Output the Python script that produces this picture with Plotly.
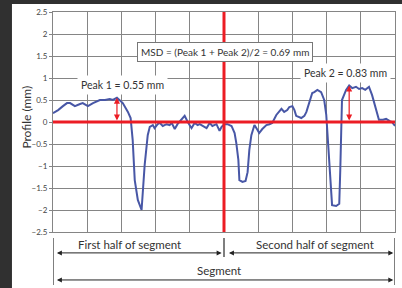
import plotly.graph_objects as go

# Profile trace (x: position along segment 0-100, y: profile in mm)
profile_x = [0, 1.5, 2.9, 4.1, 5.0, 6.4, 7.9, 8.7, 10.2, 11.7, 13.7, 15.2, 16.6, 17.5, 18.7, 19.5,
             20.4, 21.9, 22.7, 23.3, 23.9, 24.8, 25.9, 26.8, 27.7, 28.3, 29.2, 29.7, 30.6, 31.2,
             32.1, 33.2, 34.1, 34.7, 35.6, 36.4, 37.6, 38.5, 39.4, 40.5, 41.4, 42.3, 42.9, 43.7,
             44.9, 45.8, 46.6, 47.8, 48.7, 49.3, 50.1, 51.0, 52.2, 53.1, 53.6, 54.2, 54.5, 55.4,
             56.3, 56.9, 57.4, 58.0, 58.9, 59.8, 60.3, 61.2, 62.4, 63.3, 64.1, 65.3, 66.2, 66.8,
             67.6, 68.5, 69.1, 70.0, 70.6, 71.1, 72.6, 73.5, 74.1, 74.9, 75.8, 76.4, 77.3, 78.4,
             79.3, 79.9, 80.5, 81.0, 81.6, 82.8, 83.7, 84.0, 84.3, 84.5, 85.7, 86.6, 87.5, 88.6,
             89.5, 90.4, 91.3, 92.4, 93.3, 94.5, 95.3, 96.5, 97.4, 98.5, 99.1, 100]
profile_y = [0.20, 0.27, 0.36, 0.43, 0.43, 0.36, 0.41, 0.43, 0.36, 0.43, 0.50, 0.50, 0.52, 0.50,
             0.55, 0.50, 0.43, 0.23, 0.09, -0.41, -1.32, -1.77, -2.0, -0.98, -0.30, -0.11, -0.07,
             -0.14, -0.05, -0.02, -0.09, -0.05, -0.07, -0.02, -0.16, -0.05, 0.05, 0.14, 0.0,
             -0.14, -0.02, -0.07, -0.05, -0.09, -0.14, -0.02, -0.09, -0.05, -0.20, -0.11, -0.05,
             -0.05, -0.09, -0.25, -0.48, -0.86, -1.32, -1.36, -1.34, -1.14, -0.64, -0.30, -0.07,
             -0.18, -0.25, -0.16, -0.07, -0.05, -0.02, 0.16, 0.23, 0.30, 0.23, 0.27, 0.34, 0.36,
             0.27, 0.14, 0.09, 0.14, 0.23, 0.43, 0.66, 0.68, 0.73, 0.68, 0.50, 0.16, -0.64, -1.32,
             -1.89, -1.91, -1.86, -1.09, -0.18, 0.50, 0.73, 0.83, 0.77, 0.80, 0.75, 0.77, 0.73,
             0.80, 0.61, 0.27, 0.05, 0.05, 0.07, 0.02, 0.0, -0.09]

peak_labels = ["Peak 1", "Peak 2"]
peak_values = [0.55, 0.83]
peak_positions = [18.7, 86.6]
msd_value = 0.69
segment_labels = ["First half of segment", "Second half of segment", "Segment"]

FONT = "Lato"
RED = "#ec1c24"
GRID = "#858585"

fig = go.Figure()
fig.add_trace(go.Scatter(x=profile_x, y=profile_y, mode="lines",
                         line=dict(color="#4857a6", width=2), showlegend=False,
                         hoverinfo="skip"))

shapes = []
# white sheet on dark page
shapes.append(dict(type="rect", xref="paper", yref="paper", x0=-0.12, x1=1.03,
                   y0=-0.26, y1=1.036, fillcolor="white", line=dict(width=0), layer="below"))
# red reference lines
shapes.append(dict(type="line", xref="x", yref="y", x0=0, x1=100, y0=0, y1=0,
                   line=dict(color=RED, width=3), layer="above"))
shapes.append(dict(type="line", xref="x", yref="y", x0=50, x1=50, y0=-2.5, y1=2.5,
                   line=dict(color=RED, width=3), layer="above"))
# bottom segment ticks
for xv, yb in [(0, -0.241), (50, -0.114), (100, -0.241)]:
    shapes.append(dict(type="line", xref="x", yref="paper", x0=xv, x1=xv, y0=-0.027, y1=yb,
                       line=dict(color="#555555", width=1.5)))

annotations = []
# peak arrows and labels
for lab, val, pos, tx, ty in zip(peak_labels, peak_values, peak_positions, [20.4, 85.4], [0.84, 1.11]):
    annotations.append(dict(x=pos, y=val, ax=pos, ay=0, xref="x", yref="y", axref="x", ayref="y",
                            text="", showarrow=True, arrowside="end+start", arrowhead=2,
                            arrowsize=1, arrowwidth=1.2, arrowcolor=RED))
    annotations.append(dict(x=tx, y=ty, xref="x", yref="y", text=f"{lab} = {val:.2f} mm",
                            showarrow=False, bgcolor="white", borderpad=3,
                            xanchor="center", yanchor="middle",
                            font=dict(family=FONT, size=10.5, color="#333333")))
annotations.append(dict(x=50.4, y=1.59, xref="x", yref="y",
                        text=f"MSD = (Peak 1 + Peak 2)/2 = {msd_value:.2f} mm",
                        showarrow=False, bgcolor="white", bordercolor="#777777", borderwidth=1,
                        borderpad=3, xanchor="center", yanchor="middle",
                        font=dict(family=FONT, size=10, color="#333333")))
# bottom labels
for lab, xv, yv in zip(segment_labels, [22.5, 76.7, 48.6], [-0.055, -0.055, -0.173]):
    annotations.append(dict(x=xv, y=yv, xref="x", yref="paper", text=lab, showarrow=False,
                            xanchor="center", yanchor="middle",
                            font=dict(family=FONT, size=11.5, color="#333333")))
# bottom double arrows
for x0, x1, yv in [(0.7, 49.3, -0.095), (51.0, 99.5, -0.095), (0.7, 99.5, -0.218)]:
    annotations.append(dict(x=x1, y=yv, xref="x", yref="paper", ax=x0, axref="x", ay=0,
                            ayref="pixel", text="", showarrow=True, arrowside="end+start",
                            arrowhead=2, arrowsize=1, arrowwidth=1, arrowcolor="#222222"))
# y axis title
annotations.append(dict(x=-0.076, y=0.52, xref="paper", yref="paper", text="Profile (mm)",
                        textangle=-90, showarrow=False, xanchor="center", yanchor="middle",
                        font=dict(family=FONT, size=12, color="#333333")))

fig.update_layout(
    width=402, height=288,
    margin=dict(l=53, r=7, t=12, b=56),
    paper_bgcolor="#303030", plot_bgcolor="white",
    shapes=shapes, annotations=annotations,
    xaxis=dict(range=[0, 100], dtick=10, tick0=0, showticklabels=False, showgrid=True,
               gridcolor=GRID, gridwidth=1, zeroline=False, showline=True, mirror=True,
               linecolor=GRID, linewidth=1, ticks=""),
    yaxis=dict(range=[-2.5, 2.5], dtick=0.5, tick0=0, showgrid=True, gridcolor=GRID,
               gridwidth=1, zeroline=False, showline=True, mirror=True, linecolor=GRID,
               linewidth=1, ticks="outside", ticklen=3, tickcolor=GRID,
               tickfont=dict(family=FONT, size=8, color="#444444")),
)

fig.write_html("out.html", config={"displayModeBar": False},
               post_script="document.body.style.margin='0';document.body.style.padding='0';"
                           "document.body.style.overflow='hidden';")
